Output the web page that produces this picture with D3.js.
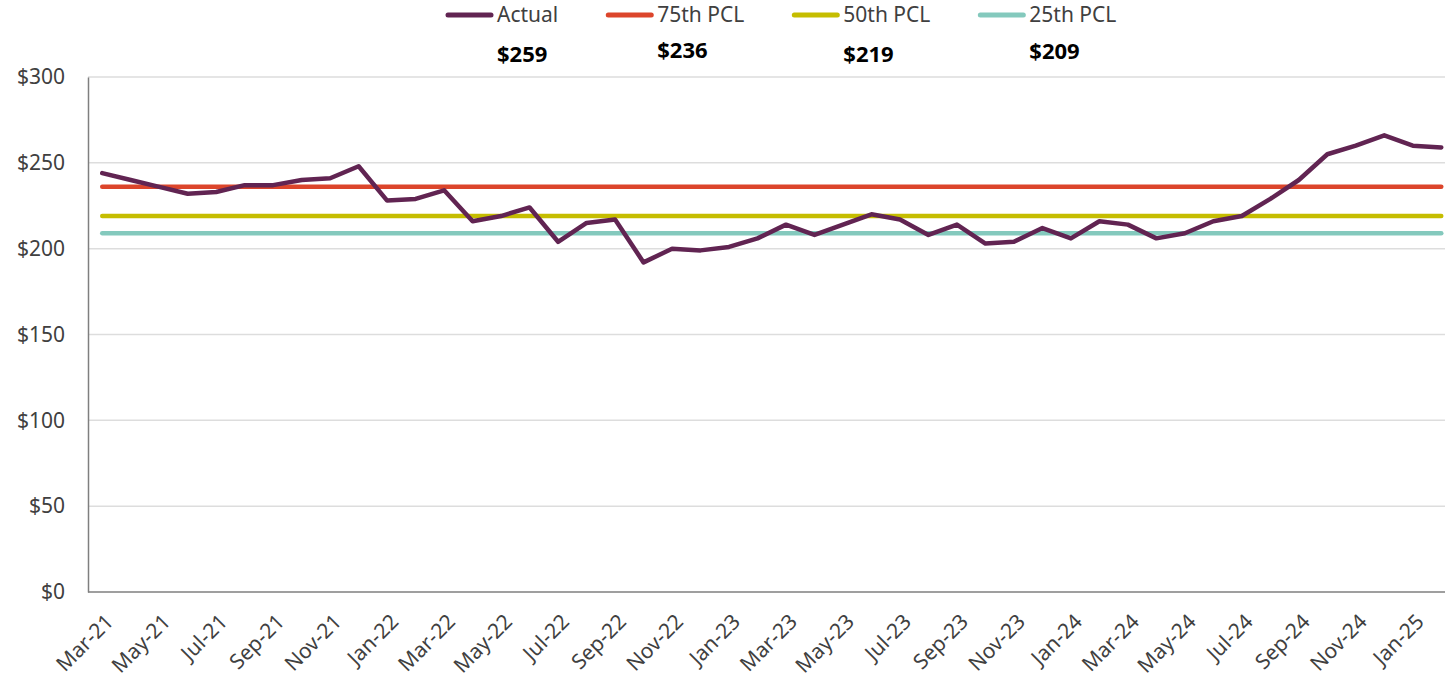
<!DOCTYPE html>
<html>
<head>
<meta charset="utf-8">
<script src="https://cdn.jsdelivr.net/npm/d3@7"></script>
<style>
  body { margin: 0; background: #fff; }
  svg { display: block; font-family: "Segoe UI", "Noto Sans", "Open Sans", sans-serif; }
</style>
</head>
<body>
<svg id="chart" width="1445" height="685"></svg>
<script>
// months shown on the category axis
const months = [
  "Mar-21","Apr-21","May-21","Jun-21","Jul-21","Aug-21","Sep-21","Oct-21","Nov-21","Dec-21",
  "Jan-22","Feb-22","Mar-22","Apr-22","May-22","Jun-22","Jul-22","Aug-22","Sep-22","Oct-22","Nov-22","Dec-22",
  "Jan-23","Feb-23","Mar-23","Apr-23","May-23","Jun-23","Jul-23","Aug-23","Sep-23","Oct-23","Nov-23","Dec-23",
  "Jan-24","Feb-24","Mar-24","Apr-24","May-24","Jun-24","Jul-24","Aug-24","Sep-24","Oct-24","Nov-24","Dec-24",
  "Jan-25","Feb-25"
];

// actual monthly values
const actual = [
  244, 240, 236, 232, 233, 237, 237, 240, 241, 248,
  228, 229, 234, 216, 219, 224, 204, 215, 217, 192, 200, 199,
  201, 206, 214, 208, 214, 220, 217, 208, 214, 203, 204, 212,
  206, 216, 214, 206, 209, 216, 219, 229, 240, 255, 260, 266,
  260, 259
];

// percentile levels
const pclNames = ["75th PCL", "50th PCL", "25th PCL"];
const pclValues = [236, 219, 209];

const seriesNames = ["Actual"].concat(pclNames);
const seriesColors = ["#612452", "#dc452b", "#c5bd00", "#84c9bd"];

const yTicks = [0, 50, 100, 150, 200, 250, 300];

// layout
const W = 1445, H = 685;
const plotLeft = 88, plotTop = 77, plotBottom = 592;
const step = 28.49;
const plotRight = plotLeft + months.length * step;

const svg = d3.select("#chart");

const x = d3.scalePoint()
    .domain(months)
    .range([plotLeft, plotRight])
    .padding(0.5);

const y = d3.scaleLinear()
    .domain([0, 300])
    .range([plotBottom, plotTop]);

// 网格线
svg.append("g")
    .selectAll("line")
    .data(yTicks.filter(d => d > 0))
    .enter()
    .append("line")
    .attr("x1", plotLeft)
    .attr("x2", W)
    .attr("y1", d => y(d))
    .attr("y2", d => y(d))
    .attr("stroke", "#dddddd")
    .attr("stroke-width", 1.5);

// y轴
const yAxis = svg.append("g")
    .attr("transform", `translate(${plotLeft},0)`)
    .call(d3.axisLeft(y).tickValues(yTicks).tickSize(0).tickPadding(23).tickFormat(d => "$" + d));
yAxis.attr("font-family", null).attr("font-size", null);
yAxis.select(".domain").attr("stroke", "#7f7f7f").attr("stroke-width", 1.5);
yAxis.selectAll("text")
    .attr("fill", "#404040")
    .style("font-size", "21px");

// x轴
const xAxis = svg.append("g")
    .attr("transform", `translate(0,${plotBottom})`)
    .call(d3.axisBottom(x).tickValues(months.filter((m, i) => i % 2 === 0)).tickSize(0));
xAxis.attr("font-family", null).attr("font-size", null);
xAxis.select(".domain")
    .attr("d", `M${plotLeft},0H${W}`)
    .attr("stroke", "#7f7f7f")
    .attr("stroke-width", 1.5);
xAxis.selectAll("text")
    .attr("fill", "#404040")
    .style("font-size", "21px")
    .style("text-anchor", "end")
    .attr("dy", null)
    .attr("y", 0)
    .attr("transform", "translate(12,31) rotate(-45)");

// 线条
const line = d3.line()
    .x((d, i) => x(months[i]))
    .y(d => y(d));

const allSeries = [actual].concat(pclValues.map(v => months.map(() => v)));

// draw percentiles first, actual on top
[1, 2, 3, 0].forEach(k => {
    svg.append("path")
        .datum(allSeries[k])
        .attr("fill", "none")
        .attr("stroke", seriesColors[k])
        .attr("stroke-width", 4.5)
        .attr("stroke-linejoin", "round")
        .attr("stroke-linecap", "round")
        .attr("d", line);
});

// 图例
const legend = svg.append("g");
let lx = 445;
const textStarts = [];
seriesNames.forEach((name, k) => {
    legend.append("line")
        .attr("x1", lx + 3).attr("x2", lx + 46)
        .attr("y1", 15).attr("y2", 15)
        .attr("stroke", seriesColors[k])
        .attr("stroke-width", 5)
        .attr("stroke-linecap", "round");
    const t = legend.append("text")
        .attr("x", lx + 52)
        .attr("y", 15)
        .attr("dy", "0.35em")
        .attr("fill", "#404040")
        .style("font-size", "21px")
        .text(name);
    textStarts.push(lx + 52);
    lx = lx + 52 + t.node().getComputedTextLength() + 47;
});

// 数值标注
const labelValues = [actual[actual.length - 1]].concat(pclValues);
const labelY = [54, 50, 54, 51];
svg.append("g")
    .selectAll("text")
    .data(labelValues)
    .enter()
    .append("text")
    .attr("x", (d, i) => textStarts[i])
    .attr("y", (d, i) => labelY[i])
    .attr("dy", "0.35em")
    .attr("fill", "#000")
    .style("font-size", "22px")
    .style("font-weight", "bold")
    .text(d => "$" + Math.round(d));
</script>
</body>
</html>
